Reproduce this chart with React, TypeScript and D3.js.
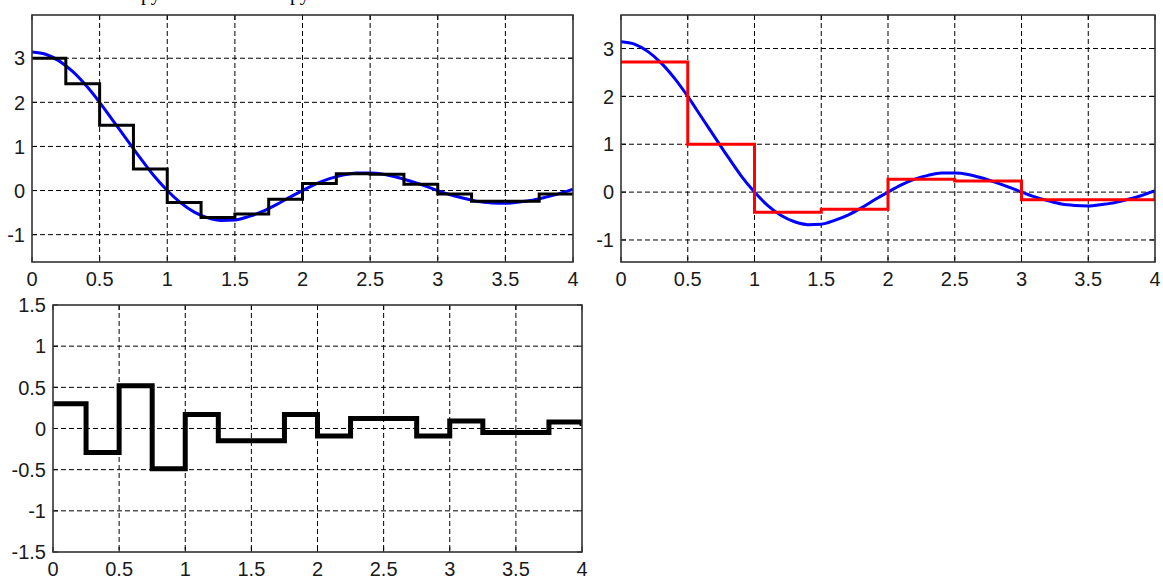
import React from "react";
import * as d3 from "d3";

// ---------- data ----------
const X_TICKS = [0, 0.5, 1, 1.5, 2, 2.5, 3, 3.5, 4];
const X_TICK_LABELS = ["0", "0.5", "1", "1.5", "2", "2.5", "3", "3.5", "4"];
const Y_TICKS_TOP = [-1, 0, 1, 2, 3];
const Y_TICK_LABELS_TOP = ["-1", "0", "1", "2", "3"];
const Y_TICKS_ERR = [-1.5, -1, -0.5, 0, 0.5, 1, 1.5];
const Y_TICK_LABELS_ERR = ["-1.5", "-1", "-0.5", "0", "0.5", "1", "1.5"];

// continuous signal (blue)
const CURVE_T = [
  0, 0.1, 0.2, 0.3, 0.4, 0.5, 0.6, 0.7, 0.8, 0.9, 1.0, 1.1, 1.2, 1.3, 1.4, 1.5, 1.6, 1.7, 1.8, 1.9, 2.0,
  2.1, 2.2, 2.3, 2.4, 2.5, 2.6, 2.7, 2.8, 2.9, 3.0, 3.1, 3.2, 3.3, 3.4, 3.5, 3.6, 3.7, 3.8, 3.9, 4.0,
];
const CURVE_Y = [
  3.14, 3.09, 2.94, 2.7, 2.38, 2.0, 1.58, 1.16, 0.74, 0.34, 0.0, -0.28, -0.49, -0.62, -0.68, -0.67, -0.59,
  -0.48, -0.33, -0.16, 0.0, 0.15, 0.27, 0.35, 0.4, 0.4, 0.37, 0.3, 0.21, 0.11, 0.0, -0.1, -0.18, -0.25,
  -0.28, -0.29, -0.26, -0.22, -0.15, -0.07, 0.03,
];

// fine staircase (step 0.25)
const STEP_Q_T = [0, 0.25, 0.5, 0.75, 1, 1.25, 1.5, 1.75, 2, 2.25, 2.5, 2.75, 3, 3.25, 3.5, 3.75, 4];
const STEP_Q_Y = [3.0, 2.42, 1.48, 0.49, -0.27, -0.61, -0.53, -0.2, 0.16, 0.38, 0.37, 0.14, -0.08, -0.24, -0.24, -0.08, -0.08];

// coarse staircase (step 0.5)
const STEP_H_T = [0, 0.5, 1, 1.5, 2, 2.5, 3, 3.5, 4];
const STEP_H_Y = [2.72, 1.0, -0.42, -0.36, 0.27, 0.23, -0.16, -0.16, -0.02];

// difference staircase (step 0.25)
const DIFF_T = [0, 0.25, 0.5, 0.75, 1, 1.25, 1.5, 1.75, 2, 2.25, 2.5, 2.75, 3, 3.25, 3.5, 3.75, 4];
const DIFF_Y = [0.3, -0.29, 0.52, -0.49, 0.17, -0.15, -0.15, 0.17, -0.09, 0.12, 0.12, -0.09, 0.09, -0.05, -0.05, 0.08, 0.03];

const HEADER_FRAGMENTS = ["ру", "ру"];

// ---------- drawing ----------
type Series = { t: number[]; y: number[]; color: string; width: number; step: boolean };

type PanelProps = {
  id: string;
  left: number;
  right: number;
  top: number;
  bottom: number;
  yDomain: [number, number];
  yTicks: number[];
  yLabels: string[];
  series: Series[];
};

const FONT = "'Liberation Sans', Arial, sans-serif";

function Panel({ id, left, right, top, bottom, yDomain, yTicks, yLabels, series }: PanelProps) {
  const x = d3.scaleLinear().domain([0, 4]).range([left, right]);
  const y = d3.scaleLinear().domain(yDomain).range([bottom, top]);
  const tickLen = 5;
  return (
    <g>
      <defs>
        <clipPath id={id}>
          <rect x={left} y={top} width={right - left} height={bottom - top} />
        </clipPath>
      </defs>
      <rect x={left} y={top} width={right - left} height={bottom - top} fill="#fff" />
      {/* grid */}
      {X_TICKS.filter((v) => v > 0 && v < 4).map((v) => (
        <line key={"gx" + v} x1={x(v)} x2={x(v)} y1={top} y2={bottom} stroke="#000" strokeWidth={1} strokeDasharray="5,3" />
      ))}
      {yTicks
        .filter((v) => v > yDomain[0] && v < yDomain[1])
        .map((v) => (
          <line key={"gy" + v} x1={left} x2={right} y1={y(v)} y2={y(v)} stroke="#000" strokeWidth={1} strokeDasharray="5,3" />
        ))}
      {/* ticks */}
      {X_TICKS.map((v) => (
        <g key={"tx" + v}>
          <line x1={x(v)} x2={x(v)} y1={bottom} y2={bottom - tickLen} stroke="#000" strokeWidth={1} />
          <line x1={x(v)} x2={x(v)} y1={top} y2={top + tickLen} stroke="#000" strokeWidth={1} />
        </g>
      ))}
      {yTicks.map((v) => (
        <g key={"ty" + v}>
          <line x1={left} x2={left + tickLen} y1={y(v)} y2={y(v)} stroke="#000" strokeWidth={1} />
          <line x1={right} x2={right - tickLen} y1={y(v)} y2={y(v)} stroke="#000" strokeWidth={1} />
        </g>
      ))}
      {/* series */}
      <g clipPath={`url(#${id})`}>
        {series.map((s, i) => {
          const pts: [number, number][] = s.t.map((t, k) => [t, s.y[k]]);
          const gen = d3
            .line<[number, number]>()
            .x((d) => x(d[0]))
            .y((d) => y(d[1]))
            .curve(s.step ? d3.curveStepAfter : d3.curveMonotoneX);
          return (
            <path
              key={i}
              d={gen(pts) || ""}
              fill="none"
              stroke={s.color}
              strokeWidth={s.width}
              strokeLinejoin="miter"
              strokeLinecap="butt"
            />
          );
        })}
      </g>
      {/* box */}
      <rect x={left} y={top} width={right - left} height={bottom - top} fill="none" stroke="#333" strokeWidth={1.6} />
      {/* labels */}
      {X_TICKS.map((v, i) => (
        <text key={"lx" + v} x={x(v)} y={bottom + 24} textAnchor="middle" fontFamily={FONT} fontSize={20} fill="#1a1a1a">
          {X_TICK_LABELS[i]}
        </text>
      ))}
      {yTicks.map((v, i) => (
        <text
          key={"ly" + v}
          x={left - 7}
          y={y(v)}
          dy="0.36em"
          textAnchor="end"
          fontFamily={FONT}
          fontSize={20}
          fill="#1a1a1a"
        >
          {yLabels[i]}
        </text>
      ))}
    </g>
  );
}

export default function App() {
  return (
    <div style={{ position: "fixed", left: 0, top: 0 }}>
      <svg width={1163} height={577} style={{ display: "block", background: "#fff" }}>
        <rect x={0} y={0} width={1163} height={577} fill="#fff" />
        <text x={141} y={0} fontFamily="'Liberation Serif', 'Times New Roman', serif" fontSize={20} fill="#000">
          {HEADER_FRAGMENTS[0]}
        </text>
        <text x={290} y={0} fontFamily="'Liberation Serif', 'Times New Roman', serif" fontSize={20} fill="#000">
          {HEADER_FRAGMENTS[1]}
        </text>
        <Panel
          id="clipA"
          left={32}
          right={573}
          top={15}
          bottom={262}
          yDomain={[-1.62, 3.98]}
          yTicks={Y_TICKS_TOP}
          yLabels={Y_TICK_LABELS_TOP}
          series={[
            { t: CURVE_T, y: CURVE_Y, color: "#0000ff", width: 3, step: false },
            { t: STEP_Q_T, y: STEP_Q_Y, color: "#000000", width: 3, step: true },
          ]}
        />
        <Panel
          id="clipB"
          left={621}
          right={1155}
          top={15}
          bottom={262}
          yDomain={[-1.46, 3.7]}
          yTicks={Y_TICKS_TOP}
          yLabels={Y_TICK_LABELS_TOP}
          series={[
            { t: CURVE_T, y: CURVE_Y, color: "#0000ff", width: 3, step: false },
            { t: STEP_H_T, y: STEP_H_Y, color: "#ff0000", width: 3, step: true },
          ]}
        />
        <Panel
          id="clipC"
          left={53}
          right={582}
          top={305}
          bottom={552}
          yDomain={[-1.5, 1.5]}
          yTicks={Y_TICKS_ERR}
          yLabels={Y_TICK_LABELS_ERR}
          series={[{ t: DIFF_T, y: DIFF_Y, color: "#000000", width: 5, step: true }]}
        />
      </svg>
    </div>
  );
}
